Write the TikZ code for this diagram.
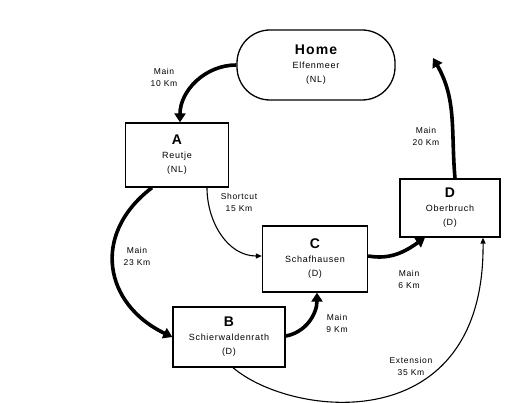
\documentclass[tikz,border=0pt]{standalone}
\usepackage{fontspec}
\setmainfont{Liberation Sans}[LetterSpace=8]
\usetikzlibrary{arrows.meta}

\begin{document}
\begin{tikzpicture}[
    x=1pt, y=-1pt,
    box/.style={draw, line width=1.3pt, minimum width=103pt, minimum height=64pt, align=center, inner sep=0pt, font=\fontsize{9}{14}\selectfont},
    home/.style={box, rounded corners=33pt, minimum width=158pt, minimum height=70pt},
    main/.style={line width=3.6pt, -{Triangle[length=9pt,width=11pt]}},
    side/.style={line width=1.1pt, -{Triangle[length=6pt,width=5pt]}},
    lbl/.style={align=center, font=\fontsize{8.5}{12}\selectfont}
]
\useasboundingbox (0,0) rectangle (523,403);

\node[home] (home) at (316,65) {{\fontsize{14}{15}\selectfont\bfseries Home}\\Elfenmeer\\(NL)};

\node[box] (a) at (177,155) {{\fontsize{14}{15}\selectfont\bfseries A}\\Reutje\\(NL)};

\node[box, minimum width=112pt, minimum height=60pt] (b) at (229,337) {{\fontsize{14}{15}\selectfont\bfseries B}\\Schierwaldenrath\\(D)};

\node[box, minimum width=105pt, minimum height=66pt] (c) at (315,259) {{\fontsize{14}{15}\selectfont\bfseries C}\\Schafhausen\\(D)};

\node[box, minimum width=100pt, minimum height=58pt] (d) at (450,208) {{\fontsize{14}{15}\selectfont\bfseries D}\\Oberbruch\\(D)};

\coordinate (ret) at (433,58);

\draw[main] (home.west) to[out=180, in=90] ([xshift=3pt]a.north);
\draw[main] ([xshift=-25pt]a.south) .. controls (90,235) and (105,305) .. (b.west);
\draw[side] ([xshift=30pt]a.south) to[out=270, in=180] ([yshift=3pt]c.west);
\draw[main] ([yshift=1pt]b.east) to[out=10, in=270] ([xshift=2pt]c.south);
\draw[main] ([yshift=3pt]c.east) to[out=-10, in=215] ([xshift=-25pt]d.south);
\draw[side] ([xshift=4pt]b.south) .. controls (292,418) and (485,440) .. ([xshift=33pt]d.south);
\draw[main] ([xshift=5pt]d.north) to[out=95, in=-60] (ret);

\node[lbl] (l1) at (164,77) {Main\\10 Km};
\node[lbl] (l2) at (239,202) {Shortcut\\15 Km};
\node[lbl] (l3) at (137,256) {Main\\23 Km};
\node[lbl] (l4) at (337,323) {Main\\9 Km};
\node[lbl] (l5) at (409,279) {Main\\6 Km};
\node[lbl] (l6) at (411,366) {Extension\\35 Km};
\node[lbl] (l7) at (426,136) {Main\\20 Km};

\end{tikzpicture}
\end{document}
